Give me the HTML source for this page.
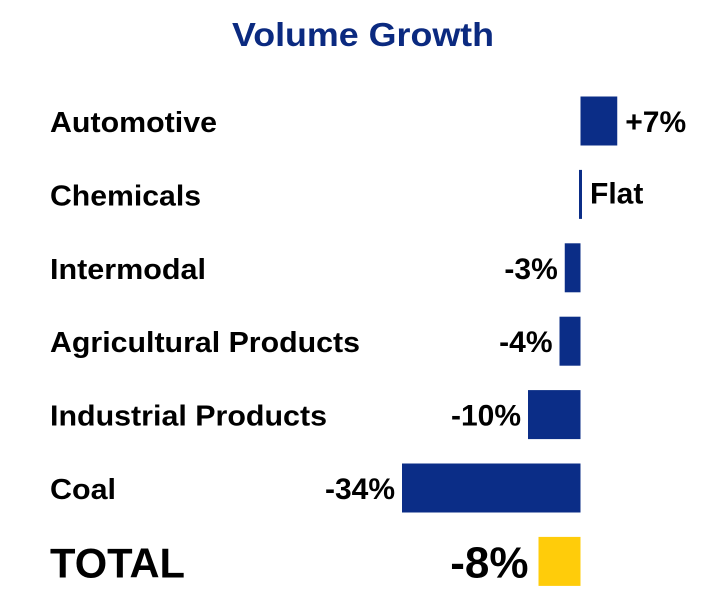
<!DOCTYPE html>
<html><head><meta charset="utf-8"><style>
html,body{margin:0;padding:0;background:#fff;}
svg{display:block;font-family:"Liberation Sans",Arial,sans-serif;font-weight:bold;}
</style></head><body>
<svg id="chart" width="726" height="614" viewBox="0 0 726 614">
<text x="232" y="46" font-size="33" fill="#0b2a80" textLength="262" lengthAdjust="spacingAndGlyphs">Volume Growth</text>
</svg>
<script>
const categories = ["Automotive","Chemicals","Intermodal","Agricultural Products","Industrial Products","Coal","TOTAL"];
const values = [7, 0, -3, -4, -10, -34, -8];
const valueLabels = ["+7%","Flat","-3%","-4%","-10%","-34%","-8%"];
const labelWidths = [167,151,156,310,277,66,135];
const svg = document.getElementById('chart');
const NS = 'http://www.w3.org/2000/svg';
const zeroX = 580.5, pxPer = 5.25;
function xScale(v){ return zeroX + v*pxPer; }
function yCenter(i){ return 121 + i*73.4; }
categories.forEach((c,i)=>{
  const isTotal = i === categories.length-1;
  const cy = yCenter(i);
  const t = document.createElementNS(NS,'text');
  
  
  t.setAttribute('x', 50);
  t.setAttribute('y', cy + (isTotal ? 16 : 11));
  t.setAttribute('font-size', isTotal ? 42 : 29);
  t.setAttribute('fill', '#000');
  t.setAttribute('textLength', labelWidths[i]);
  t.setAttribute('lengthAdjust', 'spacingAndGlyphs');
  t.textContent = c;
  svg.appendChild(t);
  const v = values[i];
  let x0 = Math.min(xScale(0), xScale(v)), x1 = Math.max(xScale(0), xScale(v));
  if (x1 - x0 < 3) { x0 = zeroX - 1.5; x1 = zeroX + 1.5; }
  const r = document.createElementNS(NS,'rect');
  
  
  r.setAttribute('x', x0);
  r.setAttribute('y', cy - 24.5);
  r.setAttribute('width', x1 - x0);
  r.setAttribute('height', 49);
  r.setAttribute('fill', isTotal ? '#ffcc0a' : '#0b2d87');
  svg.appendChild(r);
  const vl = document.createElementNS(NS,'text');
  
  
  if (v >= 0) { vl.setAttribute('x', x1 + 8); vl.setAttribute('text-anchor','start'); }
  else { vl.setAttribute('x', x0 - (isTotal ? 10 : 7)); vl.setAttribute('text-anchor','end'); }
  vl.setAttribute('y', cy + (isTotal ? 16 : (v===0 ? 9 : 11)));
  vl.setAttribute('font-size', isTotal ? 44 : 30);
  vl.setAttribute('fill', '#000');
  vl.textContent = valueLabels[i];
  svg.appendChild(vl);
});
</script>
</body></html>
